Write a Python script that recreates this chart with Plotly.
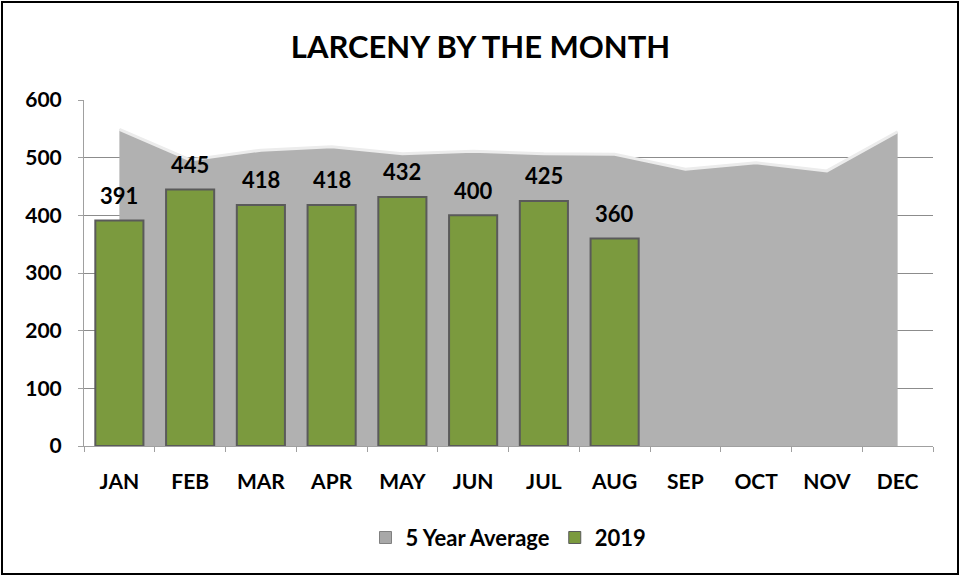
import plotly.graph_objects as go

months = ["JAN", "FEB", "MAR", "APR", "MAY", "JUN", "JUL", "AUG", "SEP", "OCT", "NOV", "DEC"]
avg5 = [549, 496, 513, 519, 507, 511, 507, 506, 480, 491, 477, 545]
months_2019 = ["JAN", "FEB", "MAR", "APR", "MAY", "JUN", "JUL", "AUG"]
vals_2019 = [391, 445, 418, 418, 432, 400, 425, 360]
yticks = [0, 100, 200, 300, 400, 500, 600]

FONT = "Lato"
GRAY = "#b1b1b1"
GREEN = "#7b9a3e"

fig = go.Figure()

# 5 year average area (base axes, behind bars)
fig.add_trace(go.Scatter(
    x=months, y=avg5, name="5 Year Average", mode="lines",
    fill="tozeroy", fillcolor=GRAY,
    line=dict(color="#ececec", width=3),
    xaxis="x", yaxis="y", showlegend=False,
))

# 2019 bars on overlay axes so they sit above the area
fig.add_trace(go.Bar(
    x=months_2019, y=vals_2019, name="2019",
    marker=dict(color=GREEN, line=dict(color="#5a5a5a", width=2)),
    width=0.68,
    xaxis="x2", yaxis="y2", showlegend=False,
))

# legend proxies (square swatches)
fig.add_trace(go.Bar(x=[None], y=[None], name="5 Year Average",
                     marker=dict(color="#a8a8a8", line=dict(color="#808080", width=1)),
                     xaxis="x2", yaxis="y2"))
fig.add_trace(go.Bar(x=[None], y=[None], name="2019",
                     marker=dict(color=GREEN, line=dict(color="#5a5a5a", width=1)),
                     xaxis="x2", yaxis="y2"))

annotations = [
    dict(x=m, y=v, xref="x2", yref="y2", text=f"<b>{v}</b>", showarrow=False,
         yshift=25, font=dict(family=FONT, size=22, color="black"))
    for m, v in zip(months_2019, vals_2019)
]

axis_font = dict(family=FONT, size=21, color="black", weight="bold")

fig.update_layout(
    width=961, height=577,
    margin=dict(l=84, r=28, t=100, b=131),
    paper_bgcolor="white", plot_bgcolor="white",
    title=dict(text="<b>LARCENY BY THE MONTH</b>", x=0.5, xanchor="center",
               y=0.918, yanchor="middle",
               font=dict(family=FONT, size=31, color="black")),
    xaxis=dict(type="category", categoryorder="array", categoryarray=months,
               range=[-0.5, 11.5], showgrid=False, tickfont=axis_font,
               ticks="outside", tickson="boundaries", ticklen=5, tickcolor="#a0a0a0",
               showline=True, linecolor="#a0a0a0", linewidth=1, ticklabelstandoff=17),
    yaxis=dict(range=[0, 600], tickvals=yticks, showgrid=True, gridcolor="#8c8c8c",
               gridwidth=1, tickfont=axis_font, ticks="outside", ticklen=5,
               tickcolor="#a0a0a0", showline=True, linecolor="#a0a0a0", zeroline=False,
               ticklabelstandoff=12),
    xaxis2=dict(type="category", categoryorder="array", categoryarray=months,
                range=[-0.5, 11.5], overlaying="x", visible=False),
    yaxis2=dict(range=[0, 600], overlaying="y", visible=False),
    legend=dict(orientation="h", x=0.5, xanchor="center", y=-0.265, yanchor="middle",
                font=dict(family=FONT, size=22, color="black", weight="bold"),
                traceorder="normal", itemwidth=30),
    showlegend=True,
    annotations=annotations,
    shapes=[dict(type="rect", xref="paper", yref="paper",
                 x0=-82/849, x1=1+25/849, y0=-128/346, y1=1+98/346,
                 line=dict(color="black", width=2))],
)

fig.write_html("out.html", config={"displayModeBar": False},
               post_script="document.body.style.margin='0';")
